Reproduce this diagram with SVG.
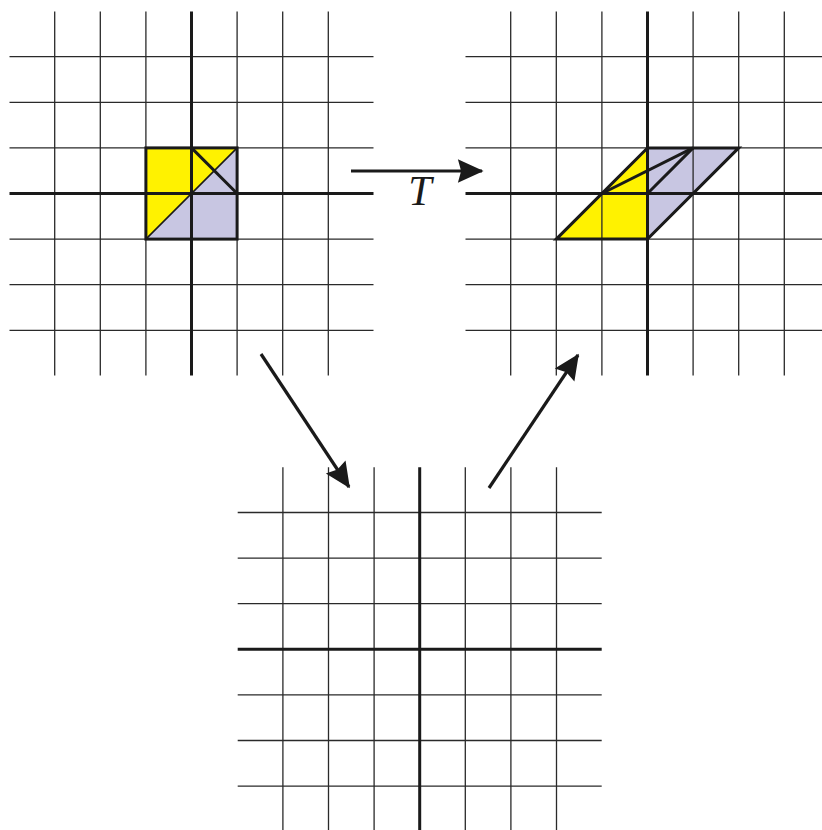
<svg xmlns="http://www.w3.org/2000/svg" width="822" height="830" viewBox="0 0 822 830">
<style>
.g{stroke:#2a2a2a;stroke-width:1.3;fill:none}
.ax{stroke:#1a1a1a;stroke-width:3;fill:none}
.ol{stroke:#1a1a1a;stroke-width:3;fill:none;stroke-linejoin:miter}
.thin{stroke:#1a1a1a;stroke-width:1.6;fill:none}
.yel{fill:#fff200}
.lav{fill:#c8c6e2}
.arr{stroke:#1a1a1a;stroke-width:3.2;fill:none}
.lbl{font-family:"Liberation Serif",serif;font-style:italic;font-size:42px;fill:#1a1a1a}
</style>
<defs>
<g id="grid">
<path class="g" d="M-136.8,-182V182M-91.2,-182V182M-45.6,-182V182M45.6,-182V182M91.2,-182V182M136.8,-182V182M-182,-136.8H182M-182,-91.2H182M-182,-45.6H182M-182,45.6H182M-182,91.2H182M-182,136.8H182"/>
<path class="ax" d="M0,-182V182M-182,0H182"/>
</g>
<marker id="ah" markerUnits="userSpaceOnUse" markerWidth="30" markerHeight="30" viewBox="-26 -13 28 26" refX="0" refY="0" orient="auto">
<path d="M1.5,0 L-22.5,-11 L-19.5,0 L-22.5,11 Z" fill="#1a1a1a"/>
</marker>
</defs>
<g id="grid-original" transform="translate(191.5,193.5)">
<polygon class="yel" points="-45.6,-45.6 45.6,-45.6 -45.6,45.6"/>
<polygon class="lav" points="45.6,-45.6 45.6,45.6 -45.6,45.6"/>
<use href="#grid"/>
<line class="thin" x1="-45.6" y1="45.6" x2="45.6" y2="-45.6"/>
<line class="ol" x1="0" y1="-45.6" x2="45.6" y2="0"/>
<rect class="ol" x="-45.6" y="-45.6" width="91.2" height="91.2"/>
</g>
<g id="grid-image" transform="translate(647.5,193.5)">
<polygon class="yel" points="-91.2,45.6 0,-45.6 0,45.6"/>
<polygon class="lav" points="0,-45.6 91.2,-45.6 0,45.6"/>
<use href="#grid"/>
<line class="ol" x1="-45.6" y1="0" x2="45.6" y2="-45.6"/>
<line class="ol" x1="0" y1="0" x2="45.6" y2="-45.6"/>
<polygon class="ol" points="-91.2,45.6 0,45.6 91.2,-45.6 0,-45.6"/>
</g>
<g id="grid-middle" transform="translate(419.7,649.3)">
<use href="#grid"/>
</g>
<g id="connectors">
<line class="arr" x1="351" y1="171" x2="482" y2="171" marker-end="url(#ah)"/>
<line class="arr" x1="261" y1="354" x2="349" y2="487" marker-end="url(#ah)"/>
<line class="arr" x1="489" y1="488" x2="578" y2="355" marker-end="url(#ah)"/>
<text class="lbl" x="420" y="205" text-anchor="middle">T</text>
</g>
</svg>
